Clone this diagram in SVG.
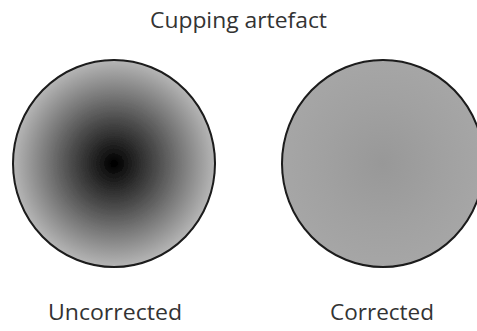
<svg xmlns="http://www.w3.org/2000/svg" width="477" height="331" viewBox="0 0 477 331">
  <defs>
    <radialGradient id="cup" cx="0.5" cy="0.5" r="0.5">
      <stop offset="0" stop-color="#000000"/>
      <stop offset="0.4" stop-color="#474747"/>
      <stop offset="0.75" stop-color="#888888"/>
      <stop offset="1" stop-color="#b6b6b6"/>
    </radialGradient>
    <radialGradient id="flat" cx="0.5" cy="0.5" r="0.5">
      <stop offset="0" stop-color="#989898"/>
      <stop offset="0.6" stop-color="#a1a1a1"/>
      <stop offset="1" stop-color="#a6a6a6"/>
    </radialGradient>
    <filter id="soft" x="-10%" y="-10%" width="120%" height="120%">
      <feGaussianBlur stdDeviation="0.6"/>
    </filter>
    <filter id="core" x="-200%" y="-200%" width="500%" height="500%">
      <feGaussianBlur stdDeviation="3"/>
    </filter>
  </defs>
  <style>
    .lbl { font-family: "Open Sans", "Liberation Sans", sans-serif; font-size: 22px; fill: #333333; text-anchor: middle; }
    .disk { stroke: #1a1a1a; stroke-width: 2; }
  </style>
  <rect width="477" height="331" fill="#ffffff"/>
  <g id="title">
    <text class="lbl" x="238.5" y="28" textLength="177" lengthAdjust="spacingAndGlyphs">Cupping artefact</text>
  </g>
  <g id="uncorrected">
    <ellipse class="disk" cx="114" cy="163.5" rx="101" ry="103.5" fill="url(#cup)" filter="url(#soft)"/>
    <circle cx="114" cy="163.5" r="6" fill="#000000" filter="url(#core)"/>
    <text class="lbl" x="115" y="320" textLength="134" lengthAdjust="spacingAndGlyphs">Uncorrected</text>
  </g>
  <g id="corrected">
    <ellipse class="disk" cx="383" cy="163.5" rx="101" ry="103.5" fill="url(#flat)" filter="url(#soft)"/>
    <text class="lbl" x="382" y="320" textLength="104" lengthAdjust="spacingAndGlyphs">Corrected</text>
  </g>
  <g id="connectors"/>
</svg>
